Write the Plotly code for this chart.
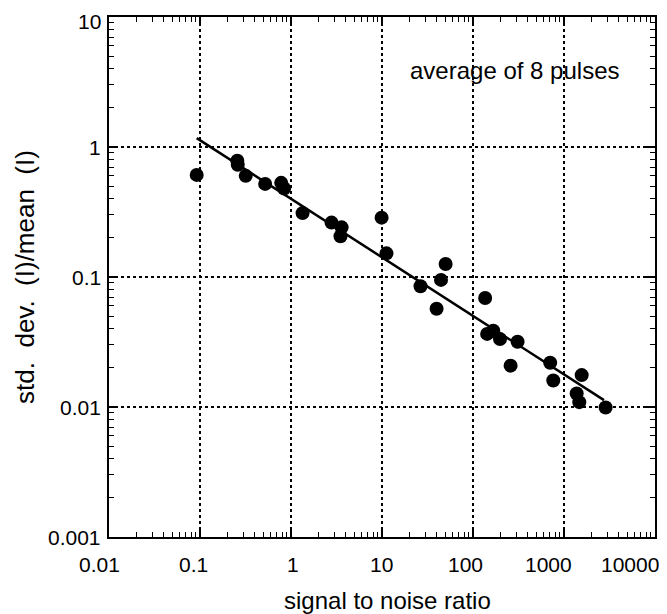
import numpy as np
import plotly.graph_objects as go

# Data -------------------------------------------------------------------------

snr = [0.092, 0.257, 0.26, 0.318, 0.52, 0.78, 0.84, 1.34, 2.79, 3.6, 3.5,
       9.9, 11.2, 26.5, 39.8, 44.5, 50, 136, 143, 167, 198, 259, 309,
       705, 762, 1378, 1472, 1564, 2866]
rel_dev = [0.61, 0.785, 0.73, 0.60, 0.52, 0.53, 0.48, 0.31, 0.262, 0.241, 0.206,
           0.286, 0.152, 0.085, 0.057, 0.095, 0.126, 0.069, 0.0365, 0.0386, 0.0333,
           0.0208, 0.0318, 0.0219, 0.016, 0.0127, 0.0109, 0.0176, 0.0099]

# straight-line fit drawn through the points (end points)
fit_snr = [0.092, 2750]
fit_dev = [1.17, 0.0113]

x_tick_vals = [0.01, 0.1, 1, 10, 100, 1000, 10000]
x_tick_text = ["0.01", "0.1", "1", "10", "100", "1000", "10000"]
y_tick_vals = [0.001, 0.01, 0.1, 1, 10]
y_tick_text = ["0.001", "0.01", "0.1", "1", "10"]

# Styling --------------------------------------------------------------------------

FONT = "Liberation Sans, Arial, sans-serif"
x_label_shift = [-10, -7, 2, -1, -8, -16, -25]   # the scanned labels drift left
y_label_shift = [0, 0, 0, 0, -4]                 # keep the top "10" on the page

_AXIS = dict(
    type="log",
    automargin=False,
    showline=True,
    linecolor="black",
    linewidth=2,
    mirror="allticks",
    ticks="inside",
    ticklen=9,
    tickwidth=1.5,
    tickcolor="black",
    showgrid=True,
    gridcolor="black",
    griddash="dot",
    gridwidth=1.5,
    zeroline=False,
    showticklabels=False,
    minor=dict(ticks="inside", ticklen=5, tickwidth=1.2, tickcolor="black",
               dtick="D1", showgrid=False),
)

fig = go.Figure()

fig.add_trace(go.Scatter(
    x=fit_snr, y=fit_dev,
    mode="lines",
    line=dict(color="black", width=2.5),
    showlegend=False,
    hoverinfo="skip",
))

fig.add_trace(go.Scatter(
    x=snr, y=rel_dev,
    mode="markers",
    marker=dict(color="black", size=14, line=dict(width=0)),
    showlegend=False,
))

fig.update_xaxes(**_AXIS, range=[-2, 4], tickvals=x_tick_vals)
fig.update_yaxes(**_AXIS, range=[-3, 1], tickvals=y_tick_vals)

tick_font = dict(family=FONT, size=21, color="black")
annotations = []
for v, t, s in zip(x_tick_vals, x_tick_text, x_label_shift):
    annotations.append(dict(
        x=np.log10(v), y=0, xref="x", yref="paper",
        text=t, showarrow=False, xanchor="center", yanchor="top",
        xshift=s, yshift=-14, font=tick_font,
    ))
for v, t, s in zip(y_tick_vals, y_tick_text, y_label_shift):
    annotations.append(dict(
        x=0, y=np.log10(v), xref="paper", yref="y",
        text=t, showarrow=False, xanchor="right", yanchor="middle",
        xshift=-6, yshift=s, font=tick_font,
    ))

annotations += [
    dict(text="signal to noise ratio", x=0.5, y=-0.093, xref="paper", yref="paper",
         xanchor="center", yanchor="top", xshift=5, showarrow=False,
         font=dict(family=FONT, size=24, color="black")),
    dict(text="std.  dev.  (I)/mean  (I)", x=-0.154, y=0.5, xref="paper", yref="paper",
         xanchor="center", yanchor="middle", textangle=-90, showarrow=False,
         font=dict(family=FONT, size=26, color="black")),
    dict(text="average of 8 pulses", x=0.742, y=0.897, xref="paper", yref="paper",
         xanchor="center", yanchor="middle", showarrow=False,
         font=dict(family=FONT, size=24, color="black")),
]

# the page body adds an 8 px offset, so the margins are trimmed by that much
fig.update_layout(
    width=667,
    height=614,
    margin=dict(l=101, r=20, t=9, b=85),
    paper_bgcolor="white",
    plot_bgcolor="white",
    annotations=annotations,
    font=dict(family=FONT, color="black"),
)

fig.write_html("out.html")
